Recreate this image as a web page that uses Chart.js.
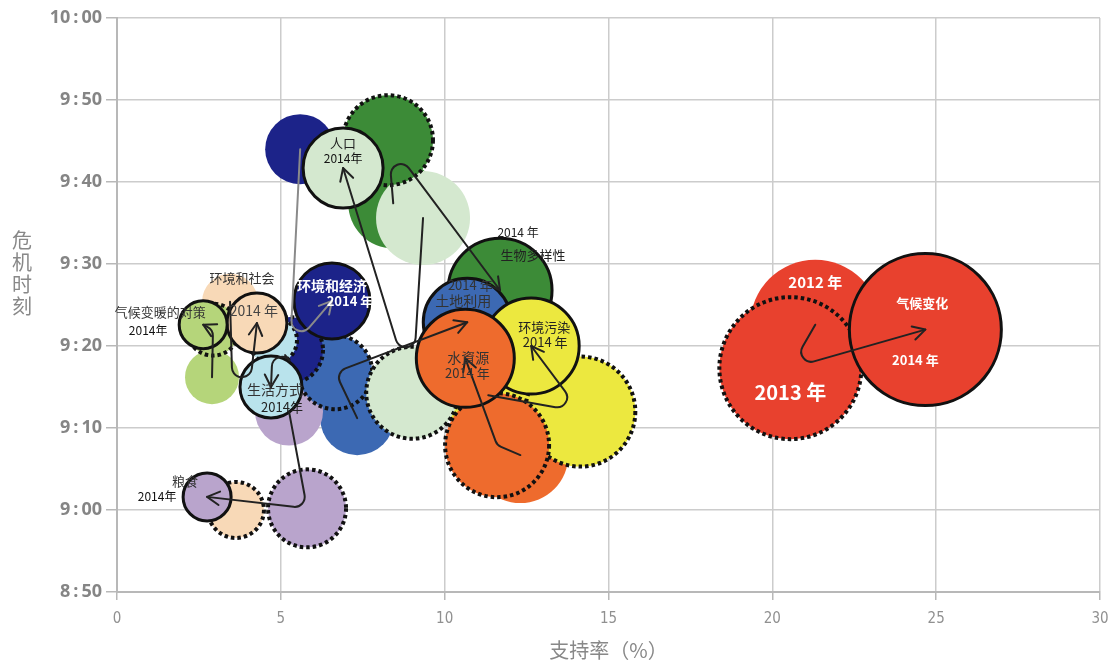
<!DOCTYPE html>
<html>
<head>
<meta charset="utf-8">
<script src="https://cdn.jsdelivr.net/npm/chart.js@4.4.1/dist/chart.umd.min.js"></script>
<style>
  html, body { margin: 0; padding: 0; background: #fff; }
  #wrap { width: 1112px; height: 664px; }
</style>
</head>
<body>
<div id="wrap"><canvas id="myCanvas"></canvas></div>
<script>
// categories, in drawing order (later ones sit on top)
const categories = ["气候变化", "生物多样性", "土地利用", "环境污染", "环境和经济", "人口", "水資源", "环境和社会", "生活方式", "气候变暖的对策", "粮食"];
const years = ["2012", "2013", "2014"];

// support rate (%)
const support2012 = [21.31, 8.43, 7.33, 11.33, 5.59, 9.34, 12.31, 3.45, 5.13, 2.90, 5.25];
const support2013 = [20.55, 8.27, 6.66, 14.14, 5.28, 9.01, 11.60, 3.63, 4.76, 2.93, 5.80];
const support2014 = [24.67, 11.69, 10.69, 12.64, 6.56, 6.90, 10.63, 4.27, 4.70, 2.63, 2.75];

// crisis time, minutes after 0:00
const time2012 = [562.6, 577.4, 551.2, 554.0, 584.0, 575.6, 546.7, 565.4, 558.9, 556.2, 552.0];
const time2013 = [557.3, 585.1, 556.8, 552.0, 559.5, 554.3, 547.9, 540.0, 560.7, 562.0, 540.2];
const time2014 = [562.0, 566.8, 562.9, 560.0, 565.5, 581.7, 558.5, 562.8, 555.0, 562.6, 541.6];

// bubble size
const size2012 = [65, 45, 37, 45, 35, 47, 48, 28, 28, 27, 34];
const size2013 = [71, 45, 37, 55, 33, 46, 52, 28, 24, 26, 39];
const size2014 = [76, 52, 44, 48, 38, 40, 49, 30, 31, 24, 24];

const yTicks = [530, 540, 550, 560, 570, 580, 590, 600];
const xTicks = [0, 5, 10, 15, 20, 25, 30];

const colors = ["#e8412e", "#3c8b37", "#3c69b3", "#ece83f", "#1c2389", "#d4e8cf", "#ee6b2d", "#f8d9b7", "#b9e3ec", "#b5d57a", "#b9a4cc"];

const toPoints = (xs, ys, rs) => xs.map((x, i) => ({ x: x, y: ys[i], r: rs[i] }));

// 590 -> "9 : 50" (thin spaces round the colon)
const fmtTime = (v) => Math.floor(v / 60) + "\u2009:\u2009" + String(v % 60).padStart(2, "0");

// text labels: [category, year index, text, dx, dy, color, size, weight]
const labelLayout = [
    [0, 0, "2012 年", 0, -42, "#fff", 15, "bold"],
    [0, 1, "2013 年", 0, 24, "#fff", 20, "bold"],
    [0, 2, "气候变化", -3, -27, "#fff", 13, "bold"],
    [0, 2, "2014 年", -10, 30, "#fff", 13, "bold"],
    [5, 2, "人口", 0, -25, "#222", 13],
    [5, 2, "2014年", 0, -10, "#111", 12],
    [1, 2, "2014 年", 18, -58, "#222", 12],
    [1, 2, "生物多样性", 33, -35, "#222", 13],
    [2, 2, "2014 年", 3, -37, "#333", 13],
    [2, 2, "土地利用", -4, -22, "#333", 14],
    [3, 2, "环境污染", 13, -19, "#222", 13],
    [3, 2, "2014 年", 14, -4, "#222", 13],
    [6, 2, "水資源", 3, -1, "#333", 14],
    [6, 2, "2014 年", 2, 15, "#333", 13],
    [4, 2, "环境和经济", 0, -15, "#fff", 14, "bold"],
    [4, 2, "2014 年", 18, 0, "#fff", 13, "bold"],
    [7, 2, "环境和社会", -15, -45, "#333", 13],
    [7, 2, "2014 年", -3, -12, "#444", 14],
    [9, 2, "气候变暖的对策", -43, -13, "#333", 13],
    [9, 2, "2014年", -55, 6, "#111", 12],
    [8, 2, "生活方式", 4, 3, "#333", 14],
    [8, 2, "2014年", 11, 20, "#222", 13],
    [10, 2, "粮食", -22, -16, "#333", 13],
    [10, 2, "2014年", -50, 0, "#111", 12],
];

const CJK = "'Noto Sans CJK SC', 'Noto Sans', sans-serif";

// 2013 bubbles get a dotted outline
const dottedPlugin = {
    id: "dotted",
    beforeDatasetDraw(chart, args) {
        if (chart.data.datasets[args.index].dotted) chart.ctx.setLineDash([3.5, 3]);
    },
    afterDatasetDraw(chart) {
        chart.ctx.setLineDash([]);
    },
};

// 2012 -> 2013 -> 2014 arrows
const arrowPlugin = {
    id: "arrows",
    afterDatasetsDraw(chart) {
        const ctx = chart.ctx;
        const metas = [0, 1, 2].map((d) => chart.getDatasetMeta(d).data);
        ctx.save();
        ctx.lineCap = "round";
        ctx.lineJoin = "round";
        categories.forEach((c, i) => {
            const p = metas.map((m) => ({ x: m[i].x, y: m[i].y }));
            ctx.strokeStyle = i === 4 ? "#8a8a8a" : "#222";
            ctx.lineWidth = 2;
            ctx.beginPath();
            ctx.moveTo(p[0].x, p[0].y);
            ctx.arcTo(p[1].x, p[1].y, p[2].x, p[2].y, 10);
            ctx.lineTo(p[2].x, p[2].y);
            ctx.stroke();
            const a = Math.atan2(p[2].y - p[1].y, p[2].x - p[1].x);
            ctx.beginPath();
            ctx.moveTo(p[2].x - 14 * Math.cos(a - 0.5), p[2].y - 14 * Math.sin(a - 0.5));
            ctx.lineTo(p[2].x, p[2].y);
            ctx.lineTo(p[2].x - 14 * Math.cos(a + 0.5), p[2].y - 14 * Math.sin(a + 0.5));
            ctx.stroke();
        });
        ctx.restore();
    },
};

const labelPlugin = {
    id: "labels",
    afterDatasetsDraw(chart) {
        const ctx = chart.ctx;
        ctx.save();
        ctx.textAlign = "center";
        ctx.textBaseline = "middle";
        labelLayout.forEach(([ci, yi, text, dx, dy, color, size, weight]) => {
            const el = chart.getDatasetMeta(yi).data[ci];
            ctx.font = (weight || "normal") + " " + size + "px " + CJK;
            ctx.fillStyle = color;
            ctx.fillText(text, el.x + dx, el.y + dy);
        });
        // vertical y axis title
        ctx.font = "20px " + CJK;
        ctx.fillStyle = "#888";
        ["危", "机", "时", "刻"].forEach((ch, k) => ctx.fillText(ch, 22, 240 + k * 22));
        ctx.restore();
    },
};

const yearStyle = [
    { border: 0, color: "rgba(0,0,0,0)", dotted: false, order: 3 },
    { border: 4, color: "#111", dotted: true, order: 2 },
    { border: 3, color: "#111", dotted: false, order: 1 },
];
const yearData = [
    toPoints(support2012, time2012, size2012),
    toPoints(support2013, time2013, size2013),
    toPoints(support2014, time2014, size2014),
];

new Chart(document.getElementById("myCanvas"), {
    type: "bubble",
    data: {
        datasets: years.map((yr, k) => ({
            label: yr,
            data: yearData[k],
            backgroundColor: colors,
            borderColor: yearStyle[k].color,
            borderWidth: yearStyle[k].border,
            dotted: yearStyle[k].dotted,
            order: yearStyle[k].order,
            clip: false,
        })),
    },
    options: {
        responsive: true,
        maintainAspectRatio: false,
        animation: false,
        events: [],
        layout: { autoPadding: false, padding: { top: 18, right: 12, left: 0, bottom: 0 } },
        plugins: { legend: false, tooltip: { enabled: false } },
        scales: {
            x: {
                type: "linear",
                min: 0,
                max: 30,
                afterBuildTicks: (s) => { s.ticks = xTicks.map((v) => ({ value: v })); },
                afterFit: (s) => { s.height = 72; s.paddingRight = 8; },
                grid: { color: "#cccccc", lineWidth: 1.5, tickLength: 8, tickColor: "#b8b8b8" },
                border: { color: "#b8b8b8", width: 2 },
                ticks: {
                    color: "#909090",
                    padding: 10,
                    font: { family: "'Liberation Sans Narrow', 'DejaVu Sans Condensed', sans-serif", size: 15 },
                },
                title: {
                    display: true,
                    text: "支持率（%）",
                    color: "#888",
                    padding: { top: 4, bottom: 2 },
                    font: { family: CJK, size: 20 },
                },
            },
            y: {
                type: "linear",
                min: 530,
                max: 600,
                afterBuildTicks: (s) => { s.ticks = yTicks.map((v) => ({ value: v })); },
                afterFit: (s) => { s.width = 117; },
                grid: { color: "#cccccc", lineWidth: 1.5, tickLength: 11, tickColor: "#b8b8b8" },
                border: { color: "#b8b8b8", width: 2 },
                ticks: {
                    color: "#858585",
                    padding: 4,
                    callback: (v) => fmtTime(v),
                    font: { family: "'Open Sans', sans-serif", size: 18, weight: "bold" },
                },
            },
        },
    },
    plugins: [dottedPlugin, arrowPlugin, labelPlugin],
});
</script>
</body>
</html>
